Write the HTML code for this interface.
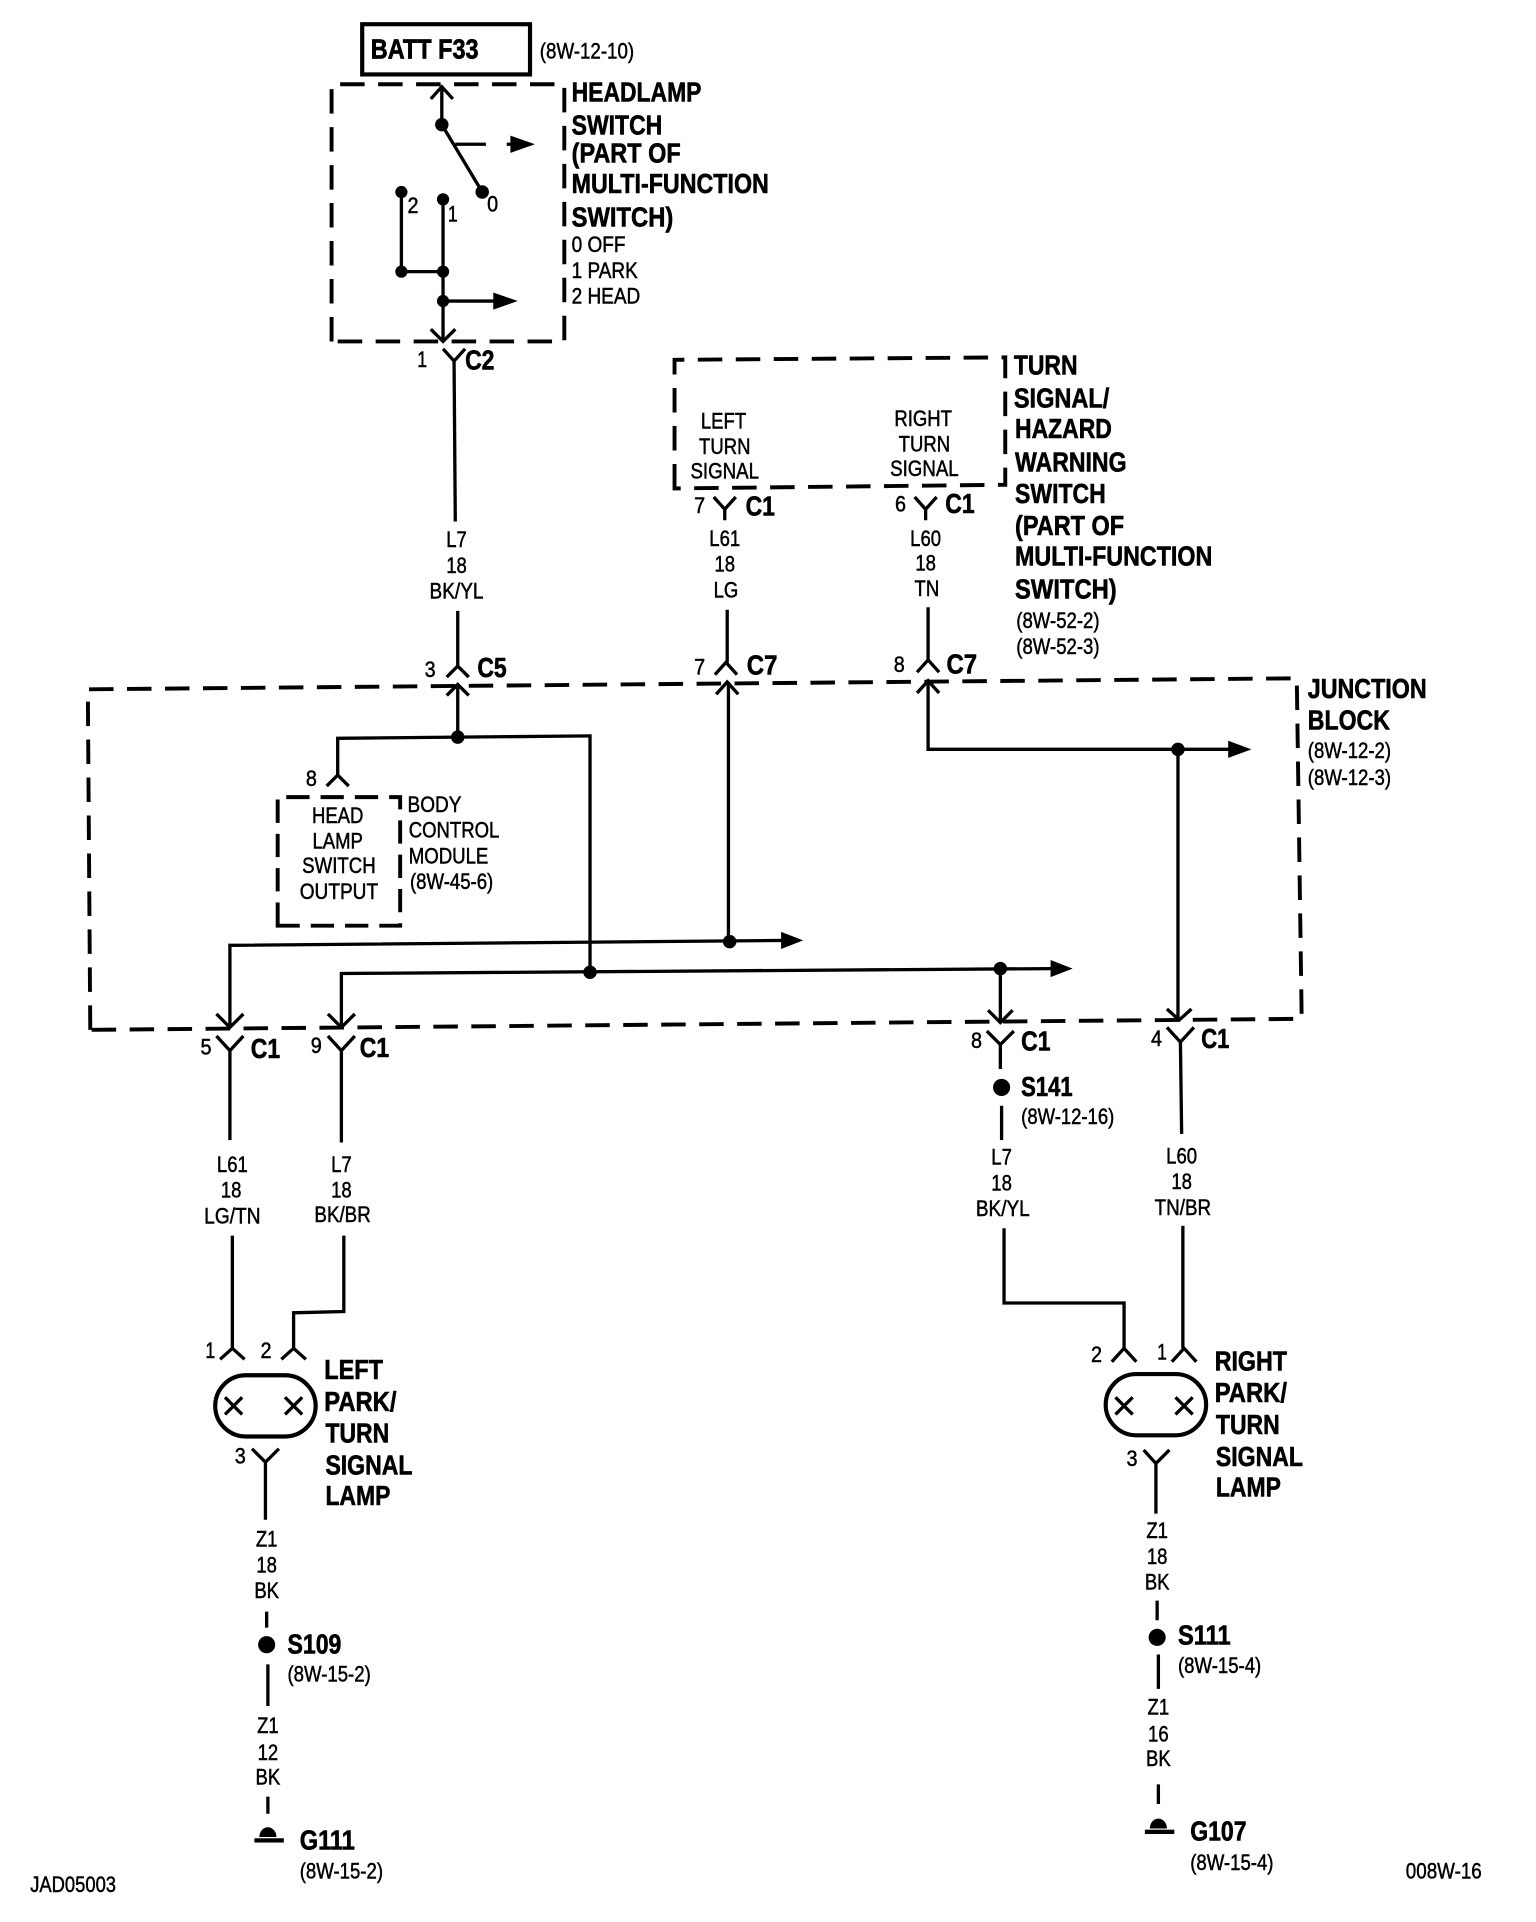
<!DOCTYPE html>
<html><head><meta charset="utf-8"><title>Wiring diagram</title>
<style>
html,body{margin:0;padding:0;background:#fff}
svg{display:block}
text{font-family:"Liberation Sans",sans-serif;fill:#000}
.b{font-weight:bold;font-size:23px;stroke:#000;stroke-width:.55px}
.m{font-weight:bold;font-size:22.5px;stroke:#000;stroke-width:.5px}
.s{font-size:18px;stroke:#000;stroke-width:.4px}
.c{text-anchor:middle}
.c text:not([textLength]){transform-box:fill-box;transform-origin:center;transform:scaleX(.84)}
.w{fill:none;stroke:#000;stroke-width:2.7;stroke-linejoin:miter}
.d{fill:none;stroke:#000;stroke-width:3.2;stroke-dasharray:20 11}
</style></head><body>
<svg xmlns="http://www.w3.org/2000/svg" width="1536" height="1922" viewBox="0 0 1254 1569">
<rect width="1254" height="1569" fill="#fff"/>
<g transform="translate(.7,.7)">

<!-- dashed boxes -->
<path class="d" d="M270 278 V68 H460 V278 Z"/>
<path class="d" d="M550 398 V293 L820 291 V395 Z"/>
<path class="d" d="M73 840 L71 562 L1058 553 L1062 831 Z"/>
<path class="d" d="M226 755 V650 H326 V755 Z" style="stroke-dasharray:19 9"/>

<rect x="295" y="19" width="137" height="41" fill="#fff" stroke="#000" stroke-width="3.4"/>

<!-- wires -->
<g class="w">
<path d="M360 70 V101 L393 156"/>
<path d="M371 117 H396 M413 117 H420"/>
<path d="M327 156 V221 H361 M361 162 V278 M361 245 H405"/>
<path d="M351 80 L360 70 L369 80"/>
<path d="M351 268 L361 278 L371 268"/>
<path d="M361 284 L370 294 L379 284 M370 294 L371 425"/>
<path d="M373 498 V543 M364 552 L373 543 L382 552"/>
<path d="M364 567 L373 558 L382 567 M373 558 V601"/>
<path d="M275 632 V602 L481 600 V793"/>
<path d="M266 641 L275 632 L284 641"/>
<path d="M582 405 L591 415 L600 405 M591 415 V424"/>
<path d="M746 405 L755 415 L764 405 M755 415 V424"/>
<path d="M593 497 V540 M583 550 L592 540 L601 550"/>
<path d="M584 566 L593 556 L602 566 M594 556 V768"/>
<path d="M757 495 V538 M748 548 L757 538 L766 548"/>
<path d="M748 565 L757 555 L766 565 M757 555 V611 H1003"/>
<path d="M961 611 V832 M952 823 L962 832 L972 823"/>
<path d="M187 838 V771 L638 767"/>
<path d="M176 827 L187 838 L198 827"/>
<path d="M278 838 V794 L858 790"/>
<path d="M267 827 L278 838 L289 827"/>
<path d="M816 790 V834 M806 824 L816 834 L826 824"/>
<path d="M176 845 L187 857 L198 845 M187 857 V930"/>
<path d="M267 845 L278 857 L289 845 M278 857 V932"/>
<path d="M805 841 L816 852 L827 841 M816 852 V872"/>
<path d="M952 838 L963 850 L974 838 M963 850 L964 925"/>
<path d="M817 902 V930"/>
<path d="M189 1008 V1100 M179 1109 L189 1100 L199 1109"/>
<path d="M280 1008 V1070 L239 1071 V1100 M229 1109 L239 1100 L249 1109"/>
<path d="M819 1002 V1063 H917 V1100 M907 1111 L917 1100 L927 1111"/>
<path d="M965 1000 V1100 M956 1111 L966 1100 L976 1111"/>
<path d="M205 1182 L216 1193 L227 1182 M216 1193 V1240"/>
<path d="M933 1183 L943 1194 L954 1183 M943 1194 V1235"/>
<path d="M217 1315 V1328 M218 1358 V1392 M218 1466 V1480"/>
<path d="M944 1306 V1322 M945 1350 V1378 M945 1456 V1472"/>
<rect x="175" y="1122" width="82" height="50" rx="25" stroke-width="3.4"/>
<rect x="902" y="1121" width="82" height="50" rx="25" stroke-width="3.4"/>
<path d="M183 1140 L197 1154 M197 1140 L183 1154 M232 1140 L246 1154 M246 1140 L232 1154"/>
<path d="M910 1140 L924 1154 M924 1140 L910 1154 M959 1140 L973 1154 M973 1140 L959 1154"/>
</g>

<!-- arrowheads -->
<polygon points="416,110 436,117 416,124"/>
<polygon points="402,238 422,245 402,252"/>
<polygon points="637,760 655,767 637,774"/>
<polygon points="857,783 875,790 857,797"/>
<polygon points="1002,604 1021,611 1002,618"/>

<!-- dots -->
<g>
<circle cx="360" cy="101" r="5.5"/><circle cx="393" cy="156" r="5.5"/>
<circle cx="327" cy="156" r="5"/><circle cx="361" cy="162" r="5"/>
<circle cx="327" cy="221" r="5"/><circle cx="361" cy="221" r="5"/><circle cx="361" cy="245" r="5"/>
<circle cx="373" cy="601" r="5.5"/><circle cx="481" cy="793" r="5.5"/>
<circle cx="595" cy="768" r="5.5"/><circle cx="816" cy="790" r="5.5"/><circle cx="961" cy="611" r="5.5"/>
<circle cx="817" cy="887" r="7"/><circle cx="217" cy="1342" r="7"/><circle cx="944" cy="1336" r="7"/>
<path d="M211 1499 A7 8 0 0 1 225 1499 Z"/><rect x="207" y="1500" width="24" height="3.5"/>
<path d="M938 1492 A7 8 0 0 1 952 1492 Z"/><rect x="934" y="1493" width="24" height="3.5"/>
</g>

<!-- top -->
<text class="b" x="302" y="47" textLength="88" lengthAdjust="spacingAndGlyphs">BATT F33</text>
<text class="s" x="440" y="47" textLength="77" lengthAdjust="spacingAndGlyphs">(8W-12-10)</text>
<text class="m" x="466" y="82" textLength="106" lengthAdjust="spacingAndGlyphs">HEADLAMP</text>
<text class="m" x="466" y="109" textLength="74" lengthAdjust="spacingAndGlyphs">SWITCH</text>
<text class="m" x="466" y="132" textLength="89" lengthAdjust="spacingAndGlyphs">(PART OF</text>
<text class="m" x="466" y="157" textLength="161" lengthAdjust="spacingAndGlyphs">MULTI-FUNCTION</text>
<text class="m" x="466" y="184" textLength="83" lengthAdjust="spacingAndGlyphs">SWITCH)</text>
<text class="s" x="466" y="205" textLength="44" lengthAdjust="spacingAndGlyphs">0 OFF</text>
<text class="s" x="466" y="226" textLength="54" lengthAdjust="spacingAndGlyphs">1 PARK</text>
<text class="s" x="466" y="247" textLength="56" lengthAdjust="spacingAndGlyphs">2 HEAD</text>
<text class="s" x="332" y="173" textLength="9" lengthAdjust="spacingAndGlyphs">2</text><text class="s" x="365" y="180" textLength="8" lengthAdjust="spacingAndGlyphs">1</text><text class="s" x="397" y="172" textLength="9" lengthAdjust="spacingAndGlyphs">0</text>
<text class="s" x="340" y="299" textLength="8" lengthAdjust="spacingAndGlyphs">1</text><text class="m" x="379" y="301" textLength="24" lengthAdjust="spacingAndGlyphs">C2</text>

<!-- wire labels -->
<g class="s c">
<text x="372" y="446">L7</text><text x="372" y="467">18</text><text x="372" y="488" textLength="44" lengthAdjust="spacingAndGlyphs">BK/YL</text>
<text x="591" y="445">L61</text><text x="591" y="466">18</text><text x="592" y="487">LG</text>
<text x="755" y="445">L60</text><text x="755" y="465">18</text><text x="756" y="486">TN</text>
<text x="189" y="956">L61</text><text x="188" y="977">18</text><text x="189" y="998" textLength="46" lengthAdjust="spacingAndGlyphs">LG/TN</text>
<text x="278" y="956">L7</text><text x="278" y="977">18</text><text x="279" y="997" textLength="46" lengthAdjust="spacingAndGlyphs">BK/BR</text>
<text x="817" y="950">L7</text><text x="817" y="971">18</text><text x="818" y="992" textLength="44" lengthAdjust="spacingAndGlyphs">BK/YL</text>
<text x="964" y="949">L60</text><text x="964" y="970">18</text><text x="965" y="991" textLength="46" lengthAdjust="spacingAndGlyphs">TN/BR</text>
<text x="217" y="1262">Z1</text><text x="217" y="1283">18</text><text x="217" y="1304">BK</text>
<text x="218" y="1414">Z1</text><text x="218" y="1436">12</text><text x="218" y="1456">BK</text>
<text x="944" y="1255">Z1</text><text x="944" y="1276">18</text><text x="944" y="1297">BK</text>
<text x="945" y="1399">Z1</text><text x="945" y="1421">16</text><text x="945" y="1441">BK</text>
<text x="590" y="349">LEFT</text><text x="591" y="370">TURN</text><text x="591" y="390" textLength="56" lengthAdjust="spacingAndGlyphs">SIGNAL</text>
<text x="753" y="347">RIGHT</text><text x="754" y="368">TURN</text><text x="754" y="388" textLength="56" lengthAdjust="spacingAndGlyphs">SIGNAL</text>
<text x="275" y="671">HEAD</text><text x="275" y="692">LAMP</text><text x="276" y="712" textLength="60" lengthAdjust="spacingAndGlyphs">SWITCH</text><text x="276" y="733" textLength="64" lengthAdjust="spacingAndGlyphs">OUTPUT</text>
</g>

<!-- turn switch -->
<text class="m" x="827" y="305" textLength="52" lengthAdjust="spacingAndGlyphs">TURN</text>
<text class="m" x="827" y="332" textLength="78" lengthAdjust="spacingAndGlyphs">SIGNAL/</text>
<text class="m" x="828" y="357" textLength="79" lengthAdjust="spacingAndGlyphs">HAZARD</text>
<text class="m" x="828" y="384" textLength="91" lengthAdjust="spacingAndGlyphs">WARNING</text>
<text class="m" x="828" y="410" textLength="74" lengthAdjust="spacingAndGlyphs">SWITCH</text>
<text class="m" x="828" y="436" textLength="89" lengthAdjust="spacingAndGlyphs">(PART OF</text>
<text class="m" x="828" y="461" textLength="161" lengthAdjust="spacingAndGlyphs">MULTI-FUNCTION</text>
<text class="m" x="828" y="488" textLength="83" lengthAdjust="spacingAndGlyphs">SWITCH)</text>
<text class="s" x="829" y="512" textLength="68" lengthAdjust="spacingAndGlyphs">(8W-52-2)</text>
<text class="s" x="829" y="533" textLength="68" lengthAdjust="spacingAndGlyphs">(8W-52-3)</text>

<!-- connector labels -->
<text class="s" x="566" y="418" textLength="9" lengthAdjust="spacingAndGlyphs">7</text><text class="m" x="608" y="420" textLength="24" lengthAdjust="spacingAndGlyphs">C1</text>
<text class="s" x="730" y="417" textLength="9" lengthAdjust="spacingAndGlyphs">6</text><text class="m" x="771" y="418" textLength="24" lengthAdjust="spacingAndGlyphs">C1</text>
<text class="s" x="346" y="552" textLength="9" lengthAdjust="spacingAndGlyphs">3</text><text class="m" x="389" y="552" textLength="24" lengthAdjust="spacingAndGlyphs">C5</text>
<text class="s" x="566" y="550" textLength="9" lengthAdjust="spacingAndGlyphs">7</text><text class="m" x="609" y="550" textLength="25" lengthAdjust="spacingAndGlyphs">C7</text>
<text class="s" x="729" y="548" textLength="9" lengthAdjust="spacingAndGlyphs">8</text><text class="m" x="772" y="549" textLength="25" lengthAdjust="spacingAndGlyphs">C7</text>
<text class="s" x="249" y="641" textLength="9" lengthAdjust="spacingAndGlyphs">8</text>
<text class="s" x="163" y="860" textLength="9" lengthAdjust="spacingAndGlyphs">5</text><text class="m" x="204" y="863" textLength="24" lengthAdjust="spacingAndGlyphs">C1</text>
<text class="s" x="253" y="859" textLength="9" lengthAdjust="spacingAndGlyphs">9</text><text class="m" x="293" y="862" textLength="24" lengthAdjust="spacingAndGlyphs">C1</text>
<text class="s" x="792" y="855" textLength="9" lengthAdjust="spacingAndGlyphs">8</text><text class="m" x="833" y="857" textLength="24" lengthAdjust="spacingAndGlyphs">C1</text>
<text class="s" x="939" y="853" textLength="9" lengthAdjust="spacingAndGlyphs">4</text><text class="m" x="980" y="855" textLength="23" lengthAdjust="spacingAndGlyphs">C1</text>
<text class="s" x="167" y="1108" textLength="8" lengthAdjust="spacingAndGlyphs">1</text><text class="s" x="212" y="1108" textLength="9" lengthAdjust="spacingAndGlyphs">2</text>
<text class="s" x="890" y="1111" textLength="9" lengthAdjust="spacingAndGlyphs">2</text><text class="s" x="944" y="1109" textLength="8" lengthAdjust="spacingAndGlyphs">1</text>
<text class="s" x="191" y="1194" textLength="9" lengthAdjust="spacingAndGlyphs">3</text><text class="s" x="919" y="1196" textLength="9" lengthAdjust="spacingAndGlyphs">3</text>

<!-- junction block -->
<text class="m" x="1067" y="569" textLength="97" lengthAdjust="spacingAndGlyphs">JUNCTION</text>
<text class="m" x="1067" y="595" textLength="67" lengthAdjust="spacingAndGlyphs">BLOCK</text>
<text class="s" x="1067" y="618" textLength="68" lengthAdjust="spacingAndGlyphs">(8W-12-2)</text>
<text class="s" x="1067" y="640" textLength="68" lengthAdjust="spacingAndGlyphs">(8W-12-3)</text>

<!-- BCM -->
<text class="s" x="332" y="662" textLength="44" lengthAdjust="spacingAndGlyphs">BODY</text>
<text class="s" x="333" y="683" textLength="74" lengthAdjust="spacingAndGlyphs">CONTROL</text>
<text class="s" x="333" y="704" textLength="65" lengthAdjust="spacingAndGlyphs">MODULE</text>
<text class="s" x="334" y="725" textLength="68" lengthAdjust="spacingAndGlyphs">(8W-45-6)</text>

<!-- splices -->
<text class="m" x="833" y="894" textLength="42" lengthAdjust="spacingAndGlyphs">S141</text>
<text class="s" x="833" y="917" textLength="76" lengthAdjust="spacingAndGlyphs">(8W-12-16)</text>

<!-- lamps -->
<text class="m" x="264" y="1125" textLength="48" lengthAdjust="spacingAndGlyphs">LEFT</text>
<text class="m" x="264" y="1151" textLength="59" lengthAdjust="spacingAndGlyphs">PARK/</text>
<text class="m" x="265" y="1177" textLength="52" lengthAdjust="spacingAndGlyphs">TURN</text>
<text class="m" x="265" y="1203" textLength="71" lengthAdjust="spacingAndGlyphs">SIGNAL</text>
<text class="m" x="265" y="1228" textLength="53" lengthAdjust="spacingAndGlyphs">LAMP</text>
<text class="m" x="991" y="1118" textLength="59" lengthAdjust="spacingAndGlyphs">RIGHT</text>
<text class="m" x="991" y="1144" textLength="59" lengthAdjust="spacingAndGlyphs">PARK/</text>
<text class="m" x="992" y="1170" textLength="52" lengthAdjust="spacingAndGlyphs">TURN</text>
<text class="m" x="992" y="1196" textLength="71" lengthAdjust="spacingAndGlyphs">SIGNAL</text>
<text class="m" x="992" y="1221" textLength="53" lengthAdjust="spacingAndGlyphs">LAMP</text>

<text class="m" x="234" y="1349" textLength="44" lengthAdjust="spacingAndGlyphs">S109</text>
<text class="s" x="234" y="1372" textLength="68" lengthAdjust="spacingAndGlyphs">(8W-15-2)</text>
<text class="m" x="961" y="1342" textLength="43" lengthAdjust="spacingAndGlyphs">S111</text>
<text class="s" x="961" y="1365" textLength="68" lengthAdjust="spacingAndGlyphs">(8W-15-4)</text>
<text class="m" x="244" y="1509" textLength="45" lengthAdjust="spacingAndGlyphs">G111</text>
<text class="s" x="244" y="1533" textLength="68" lengthAdjust="spacingAndGlyphs">(8W-15-2)</text>
<text class="m" x="971" y="1502" textLength="46" lengthAdjust="spacingAndGlyphs">G107</text>
<text class="s" x="971" y="1526" textLength="68" lengthAdjust="spacingAndGlyphs">(8W-15-4)</text>
<text class="s" x="24" y="1544" textLength="70" lengthAdjust="spacingAndGlyphs">JAD05003</text>
<text class="s" x="1147" y="1533" textLength="62" lengthAdjust="spacingAndGlyphs">008W-16</text>
</g>
</svg>
</body></html>
